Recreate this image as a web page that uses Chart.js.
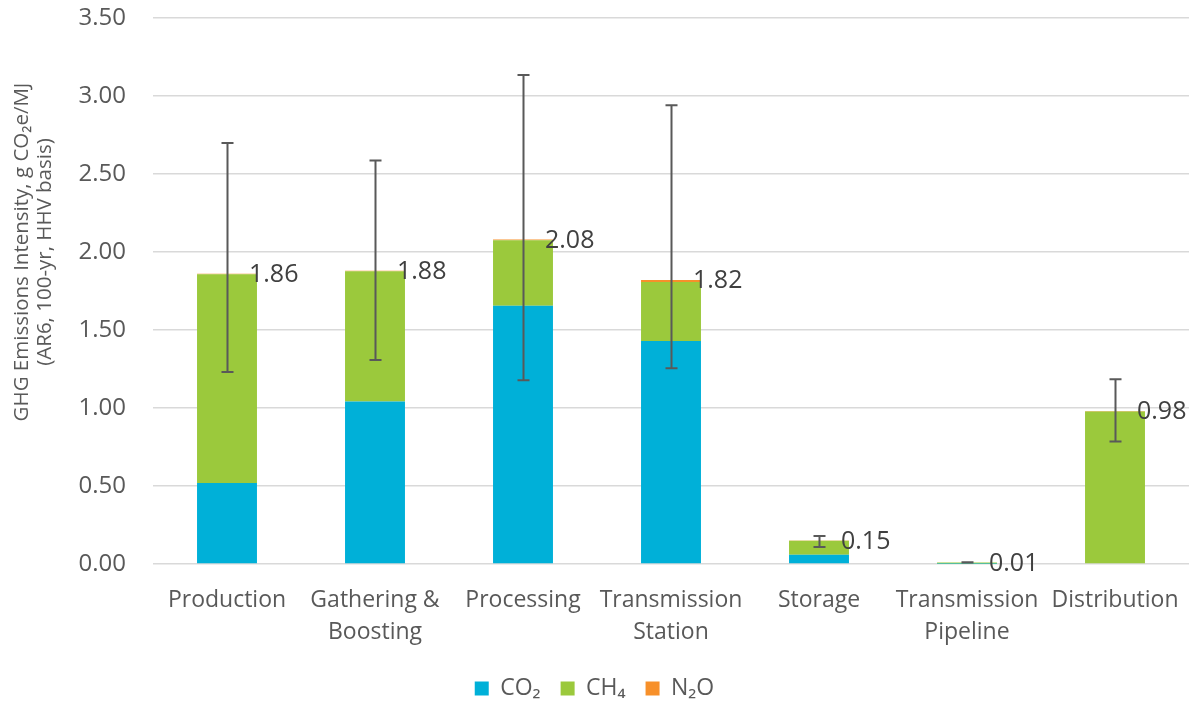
<!DOCTYPE html>
<html>
<head>
<meta charset="utf-8">
<script src="https://cdn.jsdelivr.net/npm/chart.js@4.4.1/dist/chart.umd.min.js"></script>
<style>
  html, body { margin: 0; padding: 0; background: #ffffff; }
  #wrap { width: 1194px; height: 704px; }
</style>
</head>
<body>
<div id="wrap"><canvas id="chart" width="1194" height="704"></canvas></div>
<script>
// Supply-chain segments (multi-line tick labels)
const categories = [
  ["Production"],
  ["Gathering &", "Boosting"],
  ["Processing"],
  ["Transmission", "Station"],
  ["Storage"],
  ["Transmission", "Pipeline"],
  ["Distribution"]
];

// Emissions intensity by gas, g CO2e/MJ
const co2Values = [0.520, 1.042, 1.655, 1.430, 0.060, 0.002, 0.005];
const ch4Values = [1.337, 0.835, 0.420, 0.378, 0.089, 0.008, 0.973];
const n2oValues = [0.003, 0.003, 0.005, 0.012, 0.001, 0.0002, 0.002];

// Uncertainty range of the segment total
const errLow  = [1.231, 1.308, 1.178, 1.255, 0.109, 0.0095, 0.785];
const errHigh = [2.698, 2.587, 3.134, 2.940, 0.180, 0.0105, 1.184];

// Value axis ticks
const yTicks = [0, 0.5, 1, 1.5, 2, 2.5, 3, 3.5];

const seriesNames = ["CO\u2082", "CH\u2084", "N\u2082O"];
const seriesColors = ["#00B0D8", "#9BC93C", "#F7902A"];

const FONT = "'Open Sans', 'DejaVu Sans', sans-serif";
const TEXT = "#595959";

const totals = categories.map((_, i) => co2Values[i] + ch4Values[i] + n2oValues[i]);

// Error bars drawn through the value scale
const errorBarPlugin = {
  id: "errorBars",
  afterDatasetsDraw(chart) {
    const { ctx, scales: { y } } = chart;
    const meta = chart.getDatasetMeta(0);
    ctx.save();
    ctx.strokeStyle = "#595959";
    ctx.lineWidth = 2;
    meta.data.forEach((bar, i) => {
      const x = Math.round(bar.x) + 0.5;
      const yHi = y.getPixelForValue(errHigh[i]);
      const yLo = y.getPixelForValue(errLow[i]);
      const cap = 6;
      ctx.beginPath();
      ctx.moveTo(x, yHi); ctx.lineTo(x, yLo);
      ctx.moveTo(x - cap, yHi); ctx.lineTo(x + cap, yHi);
      ctx.moveTo(x - cap, yLo); ctx.lineTo(x + cap, yLo);
      ctx.stroke();
    });
    ctx.restore();
  }
};

// Stack-total labels, to the right of each bar top
const totalLabelPlugin = {
  id: "totalLabels",
  afterDatasetsDraw(chart) {
    const { ctx, scales: { y } } = chart;
    const meta = chart.getDatasetMeta(0);
    ctx.save();
    ctx.font = "25px " + FONT;
    ctx.fillStyle = "#404040";
    ctx.textAlign = "left";
    ctx.textBaseline = "middle";
    meta.data.forEach((bar, i) => {
      const x = bar.x + bar.width / 2 - 8;
      ctx.fillText(totals[i].toFixed(2), x, y.getPixelForValue(totals[i]) + 1);
    });
    ctx.restore();
  }
};

// Rotated two-line value-axis title
const yTitlePlugin = {
  id: "yTitle",
  afterDraw(chart) {
    const { ctx } = chart;
    ctx.save();
    ctx.font = "20.5px " + FONT;
    ctx.fillStyle = TEXT;
    ctx.textAlign = "center";
    ctx.textBaseline = "middle";
    ctx.translate(0, 252);
    ctx.rotate(-Math.PI / 2);
    ctx.fillText("GHG Emissions Intensity, g CO\u2082e/MJ", 0, 22);
    ctx.fillText("(AR6, 100-yr, HHV basis)", 0, 45);
    ctx.restore();
  }
};

new Chart(document.getElementById("chart"), {
  type: "bar",
  data: {
    labels: categories,
    datasets: [co2Values, ch4Values, n2oValues].map((vals, k) => ({
      label: seriesNames[k],
      data: vals,
      backgroundColor: seriesColors[k],
      borderWidth: 0,
      categoryPercentage: 1,
      barPercentage: 0.405
    }))
  },
  options: {
    responsive: false,
    animation: false,
    devicePixelRatio: 1,
    layout: { padding: { top: 18, right: 5, left: 0, bottom: -6 } },
    plugins: {
      tooltip: { enabled: false },
      title: { display: false },
      legend: {
        position: "bottom",
        labels: {
          boxWidth: 14,
          boxHeight: 14,
          padding: 20,
          color: TEXT,
          font: { family: FONT, size: 23 }
        }
      }
    },
    scales: {
      x: {
        stacked: true,
        grid: { display: false },
        border: { display: false },
        ticks: {
          color: TEXT,
          font: { family: FONT, size: 23, lineHeight: 1.4 },
          maxRotation: 0,
          autoSkip: false,
          padding: 12
        },
        afterFit(scale) { scale.height = 93; }
      },
      y: {
        stacked: true,
        min: 0,
        max: 3.5,
        afterBuildTicks(scale) { scale.ticks = yTicks.map(v => ({ value: v })); },
        ticks: {
          color: TEXT,
          font: { family: FONT, size: 24 },
          padding: 0,
          callback: v => Number(v).toFixed(2)
        },
        grid: {
          color: "#D9D9D9",
          lineWidth: 1.5,
          drawTicks: true,
          tickLength: 27,
          tickColor: "rgba(0,0,0,0)"
        },
        border: { display: false },
        afterFit(scale) { scale.width = 153; }
      }
    }
  },
  plugins: [errorBarPlugin, totalLabelPlugin, yTitlePlugin]
});
</script>
</body>
</html>
